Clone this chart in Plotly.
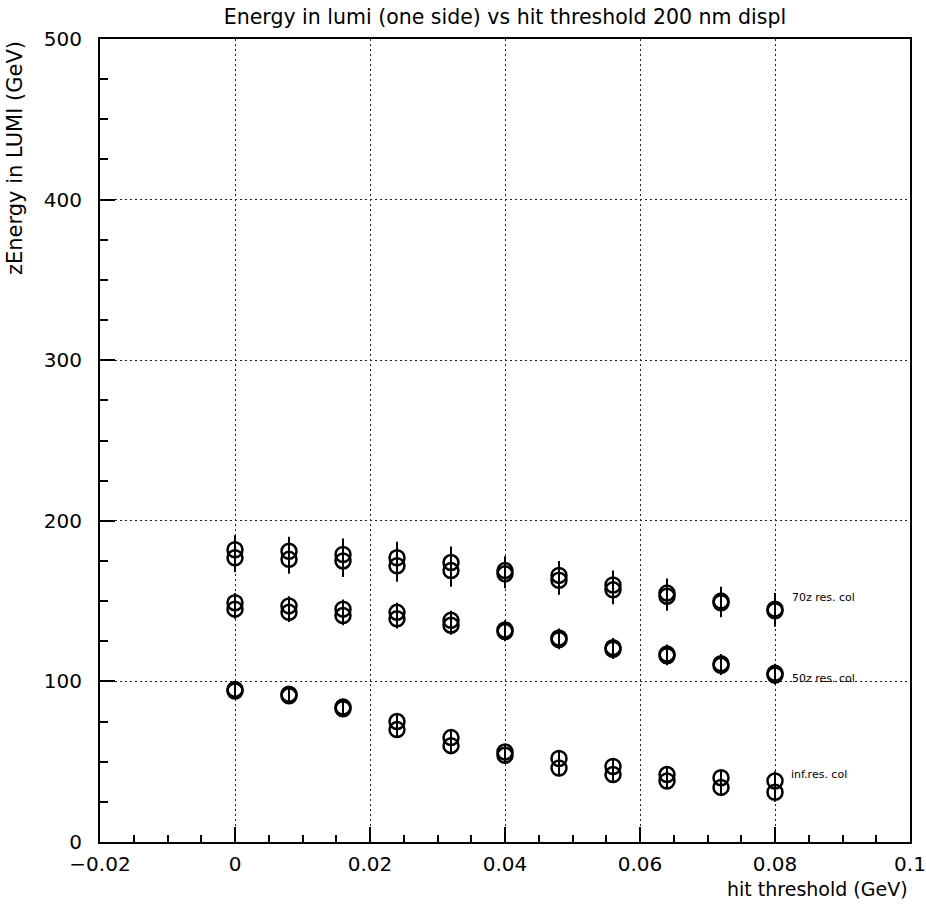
import plotly.graph_objects as go

# ---- data ----
thresholds = [0.0, 0.008, 0.016, 0.024, 0.032, 0.040, 0.048, 0.056, 0.064, 0.072, 0.080]

e70_run1 = [182, 181, 179, 177, 174, 169, 166, 160, 155, 150, 145]
e70_run2 = [177, 176, 175, 172, 169, 167, 163, 157, 153, 149, 144]
e70_err = [9, 9, 10, 10, 10, 9, 9, 9, 9, 9, 10]

e50_run1 = [149, 147, 145, 143, 138, 132, 127, 121, 117, 111, 105]
e50_run2 = [145, 143, 141, 139, 135, 131, 126, 120, 116, 110, 104]
e50_err = [6, 6, 6, 6, 6, 6, 6, 6, 6, 6, 6]

einf_run1 = [95, 92, 84, 75, 65, 56, 52, 47, 42, 40, 38]
einf_run2 = [94, 91, 83, 70, 60, 54, 46, 42, 38, 34, 31]
einf_err = [5, 5, 5, 5, 5, 5, 5, 5, 5, 5, 6]

x_tickvals = [-0.02, 0.0, 0.02, 0.04, 0.06, 0.08, 0.1]
x_ticktext = ["\u22120.02", "0", "0.02", "0.04", "0.06", "0.08", "0.1"]
y_tickvals = [0, 100, 200, 300, 400, 500]
y_ticktext = ["0", "100", "200", "300", "400", "500"]

labels = ["70z res. col", "50z res. col", "inf.res. col"]
label_pos = [(0.0822, 152), (0.0822, 102), (0.0821, 42)]

title = "Energy in lumi (one side) vs hit threshold 200 nm displ"
x_title = "hit threshold (GeV)"
y_title = "zEnergy in LUMI (GeV)"

FONT = "DejaVu Sans"

fig = go.Figure()
for ys, err in [(e70_run1, e70_err), (e70_run2, e70_err),
                (e50_run1, e50_err), (e50_run2, e50_err),
                (einf_run1, einf_err), (einf_run2, einf_err)]:
    fig.add_trace(go.Scatter(
        x=thresholds, y=ys, mode="markers",
        marker=dict(symbol="circle-open", size=15, color="black",
                    line=dict(width=2.5, color="black")),
        error_y=dict(type="data", array=err, visible=True,
                     color="black", thickness=2, width=0),
        showlegend=False, hoverinfo="x+y"))

for txt, (lx, ly) in zip(labels, label_pos):
    fig.add_annotation(x=lx, y=ly, xref="x", yref="y", text=txt,
                       showarrow=False, xanchor="left", yanchor="middle",
                       font=dict(family=FONT, size=11, color="black"))

fig.add_annotation(x=1, y=0, xref="paper", yref="paper", text=x_title,
                   showarrow=False, xanchor="right", yanchor="top", yshift=-34,
                   font=dict(family=FONT, size=19, color="black"))
fig.add_annotation(x=0, y=1, xref="paper", yref="paper", text=y_title,
                   showarrow=False, xanchor="center", yanchor="top",
                   xshift=-85, textangle=-90,
                   font=dict(family=FONT, size=21, color="black"))

grid_style = dict(showgrid=True, gridcolor="#222", gridwidth=1.2, griddash="2px,3px")

fig.update_xaxes(
    range=[-0.02, 0.1], tickmode="array", tickvals=x_tickvals, ticktext=x_ticktext,
    ticks="inside", ticklen=15, tickwidth=2, tickcolor="black",
    showline=True, linecolor="black", linewidth=2, mirror=True,
    zeroline=False, automargin=False, ticklabelstandoff=3,
    tickfont=dict(family=FONT, size=20, color="black"),
    minor=dict(tickmode="linear", tick0=0, dtick=0.005, ticks="inside",
               ticklen=7, tickwidth=1.5, tickcolor="black", showgrid=False),
    **grid_style)
fig.update_yaxes(
    range=[0, 500], tickmode="array", tickvals=y_tickvals, ticktext=y_ticktext,
    ticks="inside", ticklen=15, tickwidth=2, tickcolor="black",
    showline=True, linecolor="black", linewidth=2, mirror=True,
    zeroline=False, automargin=False, ticklabelstandoff=12,
    tickfont=dict(family=FONT, size=20, color="black"),
    minor=dict(tickmode="linear", tick0=0, dtick=25, ticks="inside",
               ticklen=8, tickwidth=1.5, tickcolor="black", showgrid=False),
    **grid_style)

fig.update_layout(
    width=926, height=904,
    margin=dict(l=100, r=16, t=39, b=62, autoexpand=False),
    paper_bgcolor="white", plot_bgcolor="white",
    title=dict(text=title, x=0.5, xref="paper", y=1 - 17 / 904, yref="container",
               xanchor="center", yanchor="middle",
               font=dict(family=FONT, size=20.5, color="black")),
)

fig.write_html("out.html")
